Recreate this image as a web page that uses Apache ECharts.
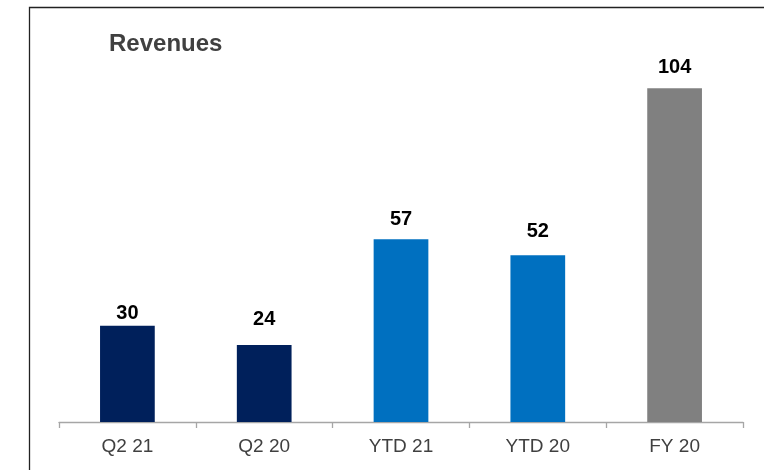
<!DOCTYPE html>
<html>
<head>
<meta charset="utf-8">
<script src="https://cdn.jsdelivr.net/npm/echarts@6/dist/echarts.min.js"></script>
<style>html,body{margin:0;padding:0;background:#fff;}#c{width:764px;height:470px;}</style>
</head>
<body>
<div id="c"></div>
<script>
const categories = ['Q2 21', 'Q2 20', 'YTD 21', 'YTD 20', 'FY 20'];
const revenues = [30, 24, 57, 52, 104];

// styling (not data)
const barColors = ['#00205B', '#00205B', '#0070C0', '#0070C0', '#808080'];
const labelGaps = [2, 16, 10, 14, 11];

const chart = echarts.init(document.getElementById('c'));
chart.setOption({
  animation: false,
  backgroundColor: '#fff',
  title: {
    text: 'Revenues', left: 109, top: 32, padding: 0,
    textStyle: { fontFamily: 'Liberation Sans', fontSize: 24, fontWeight: 'bold', color: '#404040' }
  },
  graphic: [{
    type: 'rect', shape: { x: 29.5, y: 7.5, width: 800, height: 500 },
    style: { fill: 'none', stroke: '#222', lineWidth: 1.3 }, z: 10
  }],
  grid: { left: 59, right: 21, top: 37, bottom: 48 },
  xAxis: {
    type: 'category', data: categories,
    axisLine: { lineStyle: { color: '#A6A6A6', width: 1.3 } },
    axisTick: { show: true, length: 6, lineStyle: { color: '#A6A6A6', width: 1.3 } },
    axisLabel: { fontFamily: 'Liberation Sans', fontSize: 19, color: '#404040', margin: 15 }
  },
  yAxis: { type: 'value', min: 0, max: 120, show: false, splitLine: { show: false } },
  series: [{
    type: 'bar', barWidth: '40%',
    data: revenues.map((v, i) => ({
      value: v,
      itemStyle: { color: barColors[i] },
      label: { distance: labelGaps[i] }
    })),
    label: {
      show: true, position: 'top',
      fontFamily: 'Liberation Sans', fontSize: 20, fontWeight: 'bold', color: '#000'
    }
  }]
});
</script>
</body>
</html>
